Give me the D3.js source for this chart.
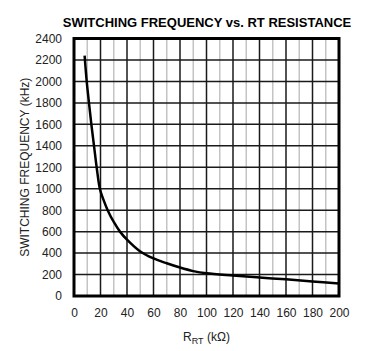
<!DOCTYPE html>
<html>
<head>
<meta charset="utf-8">
<script src="https://cdn.jsdelivr.net/npm/d3@7"></script>
<style>
  html, body { margin: 0; padding: 0; background: #fff; }
  svg { display: block; font-family: "Liberation Sans", Arial, sans-serif; }
</style>
</head>
<body>
<div id="chart"></div>
<script>
// Switching frequency vs. RT resistance.
const resistance = [8, 9.6, 11.3, 13.1, 15.1, 17.1, 19.5, 22, 25.4, 30, 34.7, 40, 50, 60, 70, 80, 90, 100, 120, 140, 160, 180, 200];
const frequency = [2240, 2000, 1800, 1600, 1400, 1200, 1000, 905, 800, 690, 600, 525, 415, 350, 305, 265, 232, 211, 190, 172, 155, 136, 116];
const xTicks = [0, 20, 40, 60, 80, 100, 120, 140, 160, 180, 200];
const yTicks = [0, 200, 400, 600, 800, 1000, 1200, 1400, 1600, 1800, 2000, 2200, 2400];

const W = 368, H = 351;
const margin = { top: 38.5, right: 29, bottom: 55, left: 74 };

const svg = d3.select("#chart").append("svg")
  .attr("width", W).attr("height", H);

const x = d3.scaleLinear().domain([0, 200]).range([margin.left, W - margin.right]);
const y = d3.scaleLinear().domain([0, 2400]).range([H - margin.bottom, margin.top]);

// Grid: minor verticals every 10 (light), majors every 20, horizontals every 200
const gGrid = svg.append("g");
gGrid.selectAll("line.vminor")
  .data(d3.range(10, 200, 20))
  .join("line")
    .attr("x1", d => x(d)).attr("x2", d => x(d))
    .attr("y1", y(0)).attr("y2", y(2400))
    .attr("stroke", "#c4c4c4").attr("stroke-width", 1.5);
gGrid.selectAll("line.vmajor")
  .data(xTicks.slice(1, -1))
  .join("line")
    .attr("x1", d => x(d)).attr("x2", d => x(d))
    .attr("y1", y(0)).attr("y2", y(2400))
    .attr("stroke", "#1a1a1a").attr("stroke-width", 1.5);
gGrid.selectAll("line.h")
  .data(yTicks.slice(1, -1))
  .join("line")
    .attr("x1", x(0)).attr("x2", x(200))
    .attr("y1", d => y(d)).attr("y2", d => y(d))
    .attr("stroke", "#1a1a1a").attr("stroke-width", 1.5);

// Curve
const line = d3.line()
  .x((d, i) => x(resistance[i]))
  .y(d => y(d))
  .curve(d3.curveCatmullRom.alpha(0.5));
svg.append("path")
  .datum(frequency)
  .attr("d", line)
  .attr("fill", "none")
  .attr("stroke", "#000")
  .attr("stroke-width", 2.5);

// Frame
svg.append("rect")
  .attr("x", x(0)).attr("y", y(2400))
  .attr("width", x(200) - x(0)).attr("height", y(0) - y(2400))
  .attr("fill", "none").attr("stroke", "#000").attr("stroke-width", 3);

// Axes (labels only)
const gX = svg.append("g")
  .attr("transform", `translate(0,${y(0) + 4})`)
  .call(d3.axisBottom(x).tickValues(xTicks).tickFormat(d3.format("d")).tickSize(0).tickPadding(8));
const gY = svg.append("g")
  .attr("transform", `translate(${x(0) - 4},0)`)
  .call(d3.axisLeft(y).tickValues(yTicks).tickFormat(d3.format("d")).tickSize(0).tickPadding(8));
[gX, gY].forEach(g => {
  g.select(".domain").remove();
  g.selectAll("text").attr("font-size", 12).attr("fill", "#222")
    .attr("font-family", "'Liberation Sans', Arial, sans-serif");
});

// Titles
svg.append("text")
  .attr("x", 207).attr("y", 27)
  .attr("text-anchor", "middle")
  .attr("font-size", 13).attr("font-weight", "bold")
  .text("SWITCHING FREQUENCY vs. RT RESISTANCE");

svg.append("text")
  .attr("transform", `translate(29,${(y(0) + y(2400)) / 2}) rotate(-90)`)
  .attr("text-anchor", "middle")
  .attr("font-size", 12).attr("fill", "#222")
  .text("SWITCHING FREQUENCY (kHz)");

const xt = svg.append("text")
  .attr("x", x(100)).attr("y", 341)
  .attr("text-anchor", "middle")
  .attr("font-size", 12).attr("fill", "#222");
xt.append("tspan").text("R");
xt.append("tspan").attr("font-size", 9).attr("dy", 3).text("RT");
xt.append("tspan").attr("dy", -3).text(" (kΩ)");
</script>
</body>
</html>
